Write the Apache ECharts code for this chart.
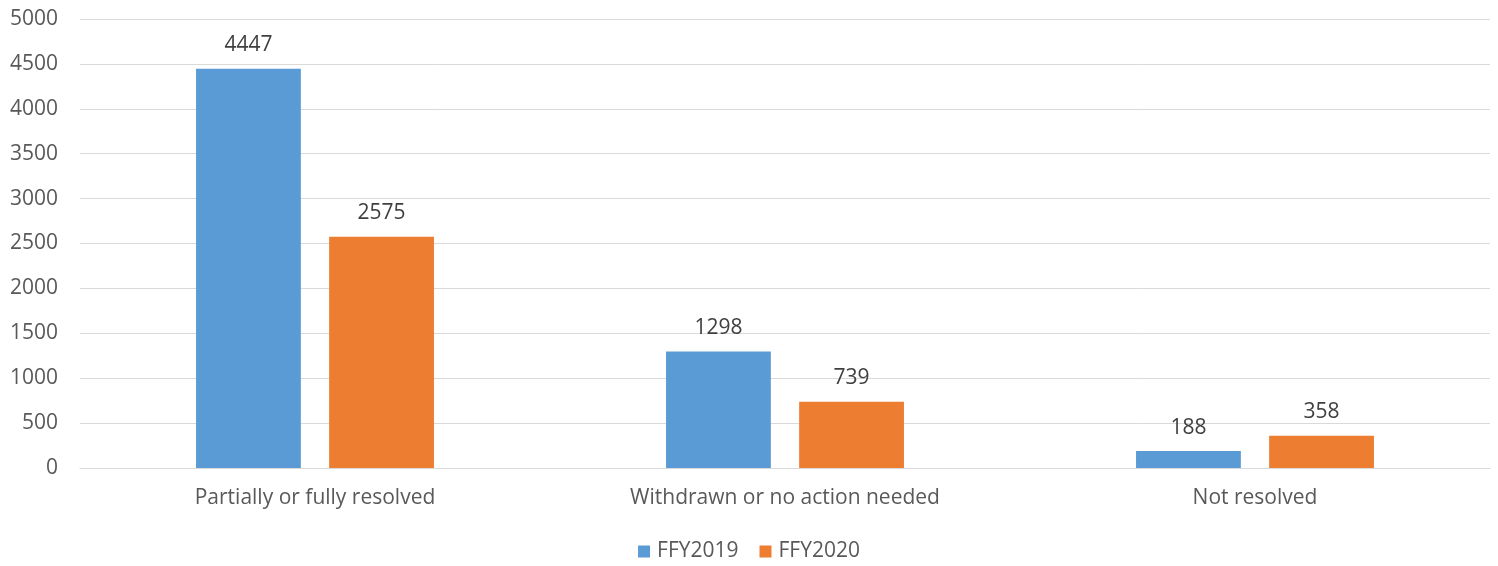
<!DOCTYPE html>
<html><head><meta charset="utf-8">
<script src="https://cdn.jsdelivr.net/npm/echarts@6/dist/echarts.min.js"></script>
<style>html,body{margin:0;padding:0;background:#fff}#c{width:1498px;height:566px}</style>
</head><body><div id="c"></div>
<script>
const categories = ['Partially or fully resolved', 'Withdrawn or no action needed', 'Not resolved'];
const ffy2019 = [4447, 1298, 188];
const ffy2020 = [2575, 739, 358];
const yTicks = {min: 0, max: 5000, interval: 500};
const font = '"Open Sans", sans-serif';
const chart = echarts.init(document.getElementById('c'));
const lbl = {show: true, position: 'top', distance: 13, color: '#404040', fontSize: 21, fontFamily: font};
chart.setOption({
  animation: false,
  color: ['#5B9BD5', '#ED7D31'],
  grid: {left: 80, right: 8, top: 19, bottom: 98},
  legend: {
    bottom: -1, left: 'center', itemWidth: 12, itemHeight: 12, itemGap: 21,
    icon: 'rect',
    textStyle: {color: '#595959', fontSize: 21, fontFamily: font, padding: [0, 0, 0, 2]}
  },
  xAxis: {
    type: 'category', data: categories,
    axisLine: {lineStyle: {color: '#D9D9D9'}}, axisTick: {show: false},
    axisLabel: {color: '#595959', fontSize: 21, fontFamily: font, margin: 20}
  },
  yAxis: {
    type: 'value', min: yTicks.min, max: yTicks.max, interval: yTicks.interval,
    axisLine: {show: false}, axisTick: {show: false},
    splitLine: {lineStyle: {color: '#D9D9D9'}},
    axisLabel: {color: '#595959', fontSize: 21, fontFamily: font, margin: 22,
      formatter: v => String(v)}
  },
  series: [
    {name: 'FFY2019', type: 'bar', data: ffy2019, barWidth: '22.3%', barGap: '27%', label: lbl},
    {name: 'FFY2020', type: 'bar', data: ffy2020, barWidth: '22.3%', barGap: '27%', label: lbl}
  ]
});
</script></body></html>
